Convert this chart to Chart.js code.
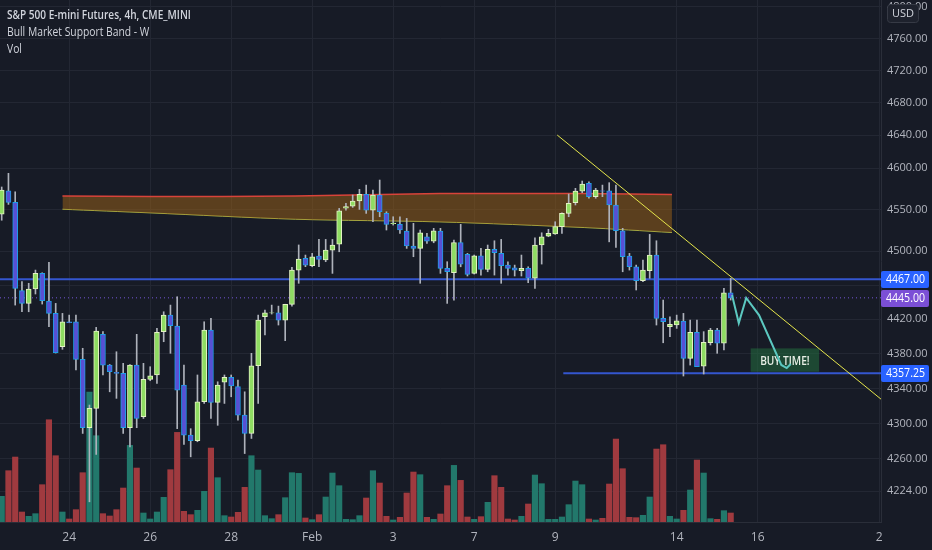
<!DOCTYPE html>
<html>
<head>
<meta charset="utf-8">
<script src="https://cdn.jsdelivr.net/npm/chart.js"></script>
<style>
  html, body { margin: 0; padding: 0; background: #171b26; }
  #wrap { width: 932px; height: 550px; }
</style>
</head>
<body>
<div id="wrap"><canvas id="esChart" width="932" height="550"></canvas></div>
<script>
// 4h candles, index 0 = first visible bar
const opens = [4544.4,4572.5,4558.5,4453.4,4438.5,4455.4,4473.8,4441.2,4426.8,4388,4417,4417,4373.4,4295.2,4317.2,4402.4,4366.8,4358.4,4357.3,4295.2,
  4366.8,4307.6,4350.4,4355.4,4405.5,4424.8,4412,4343.9,4286.8,4280.4,4324.7,4407.4,4324,4347,4352.7,4342,4309.5,4288.7,4366,4422.9,
  4427.2,4427.5,4419,4437.3,4477.7,4491.6,4482.8,4494.3,4489.6,4501.4,4508.5,4551.6,4554,4560.1,4568.1,4549.2,4567.3,4545.2,4532.9,4532.1,
  4524.1,4506.2,4503.4,4517.3,4512.1,4524.1,4479.7,4474.5,4510.4,4496.3,4473.8,4494.7,4478.5,4502.2,4497.5,4483.6,4480.5,4476.9,4479.7,4468,
  4507.4,4518.1,4520.5,4529.3,4545.2,4558,4572.1,4581.4,4565.3,4572.5,4572.5,4555.3,4524.4,4494.3,4481.6,4465.2,4476.9,4495.5,4421,4411.2,
  4413.2,4417.8,4374.6,4404.7,4365.6,4392.7,4407.4,4392,4451];
const highs = [4577,4593.5,4571.2,4464,4462.1,4477.7,4474.5,4486.9,4438.5,4426.8,4424.8,4424.8,4386.2,4321,4410.5,4405.5,4367.5,4382.2,4368.8,4367.5,
  4402.4,4368.8,4364.9,4409.4,4428.7,4436.5,4446.3,4366.8,4294.1,4355.4,4417,4420.9,4347.6,4355.4,4355.4,4349.6,4336.1,4380.4,4424.8,4430.7,
  4436.5,4435.3,4437.5,4480.9,4507.5,4495.5,4497.5,4514.1,4514.1,4514.1,4551.2,4557.3,4567.3,4574.1,4579.3,4573.3,4585.4,4547.2,4541.2,4541.2,
  4539.2,4533.3,4525.3,4521.3,4527.3,4527.3,4487.6,4513.3,4532.1,4497.5,4495.5,4503.4,4507.4,4512.5,4514.1,4487.6,4483.6,4495.5,4481.6,4516.1,
  4522,4526.1,4535.2,4546,4568.5,4575.4,4584.2,4583.3,4575.4,4579.3,4582.2,4579.3,4527.3,4497.5,4483.6,4489.6,4520.1,4512.5,4442.4,4422.9,
  4424.8,4426.8,4419,4419,4405.5,4409.4,4409.4,4456.2,4468];
const lows = [4537,4556,4436.5,4428.7,4428.7,4449.5,4437.7,4411.2,4380.7,4385,4415.9,4361.1,4288.7,4212,4265,4355.4,4336.1,4328.6,4288.7,4273.6,
  4295.2,4305.7,4348.8,4345.8,4393.8,4380.4,4294.1,4276.2,4262.3,4279.3,4322.8,4305.7,4297.9,4322.8,4330.4,4303.8,4266,4283,4322.8,4401.6,
  4426,4413.2,4395,4435.3,4462.1,4481.7,4481.6,4481.6,4487.6,4473.8,4499.4,4549.2,4552.4,4550,4545.2,4535.2,4541.2,4525.3,4531.2,4521.3,
  4503.4,4493.5,4462.1,4509.4,4510.1,4473.8,4438.5,4442.4,4481.6,4470.7,4473,4471.8,4475.7,4471.8,4462.1,4471.8,4470.7,4470.7,4462.8,4456.2,
  4484.8,4517.3,4520.1,4521.3,4541.2,4555.3,4570.1,4563.4,4563.4,4565.3,4511.2,4504.6,4475.7,4477.7,4454.2,4464,4468,4413.2,4392.6,4399.6,
  4409.3,4354.2,4366.8,4364.9,4356.5,4390,4380.4,4384.2,4442.4];
const closes = [4573.3,4558.5,4456.2,4438.5,4455.4,4473.8,4441.6,4426.8,4381.1,4417,4416,4373.4,4295.2,4317.2,4406.2,4366.8,4359.1,4357.3,4295.2,4366.8,
  4305.7,4350.4,4354.5,4404.7,4424.8,4412.4,4338.1,4286.8,4280.4,4324.7,4407.4,4324,4343.9,4352.7,4342.7,4309.5,4288.7,4366,4419,4427.5,
  4427.5,4419,4437.3,4477.7,4490.8,4483.6,4493.5,4490.4,4501.4,4507.4,4548.4,4553.4,4560.1,4568.1,4549.2,4567.3,4547.2,4532.1,4533.6,4525.3,
  4506.2,4503.4,4522,4512.1,4524.4,4479.7,4475.7,4510.4,4484.8,4472.6,4494.7,4478.5,4502.2,4498.2,4482.8,4479.7,4477.7,4479.7,4468,4507.4,
  4517.3,4521.3,4529.3,4545.2,4557.3,4572.1,4580.6,4565.3,4573.3,4572,4555.3,4524.4,4493.5,4481.6,4465.2,4477.7,4495.5,4421,4417,4414,
  4418.2,4374.6,4404.7,4364.9,4393.1,4407.4,4392,4451,4445];
const volumes = [77,154,195,30,17,25,112,307,199,30,9,37,148,390,259,25,18,37,102,230,
  162,27,9,30,74,157,269,32,22,35,92,222,133,19,15,29,104,199,156,19,
  10,22,73,148,146,12,7,22,75,147,109,8,7,19,72,154,117,17,6,14,
  87,150,142,14,8,24,109,170,125,15,8,16,59,139,104,9,6,17,54,141,
  115,8,8,15,52,123,112,9,6,11,114,249,160,14,13,20,75,219,232,17,
  9,35,96,186,147,10,8,34,27];

// time axis: bar index -> label
const dayIdx = [10, 22, 34, 46, 58, 70, 82, 100, 112, 130];
const dayLabels = ['24', '26', '28', 'Feb', '3', '7', '9', '14', '16', '2'];
const priceTicks = [4224, 4260, 4300, 4340, 4380, 4420, 4460, 4500, 4550, 4600, 4640, 4680, 4720, 4760, 4800];

// Bull Market Support Band (weekly) over the visible span
const bandIdx = [9.0, 22.0, 43.5, 64.9, 86.4, 99.3];
const bandTop = [4566, 4565.5, 4566, 4569, 4569, 4568];
const bandBottom = [4550.2, 4545.8, 4538.2, 4535, 4528.2, 4522.3];

// drawings
const resistance = 4467;
const support = 4357.25;
const supportFrom = 83.2;
const lastPrice = 4445;
const trendIdx = [82.3, 130.27];
const trendPrice = [4640.2, 4327.7];
const pathIdx = [108.2, 109.2, 110.3, 112.2, 115.5, 116.3, 116.9];
const pathPrice = [4448.3, 4415.5, 4444.8, 4424.8, 4366.9, 4363.4, 4368];
const buyIdx = [110.96, 121.1];
const buyPrice = [4386.1, 4359.1];

const X_MIN = -0.252, X_MAX = 130.27;
const Y_MIN = 4189.6, Y_MAX = 4808.6;

const isUp = closes.map((c, i) => c >= opens[i]);
const pts = (xs, ys) => xs.map((x, i) => ({ x: x, y: ys[i] }));

// narrow text like the TradingView UI font
function narrowText(ctx, txt, x, y, sx) {
  ctx.save();
  ctx.translate(x, y);
  ctx.scale(sx, 1);
  ctx.fillText(txt, 0, 0);
  ctx.restore();
}

const overlay = {
  id: 'overlay',
  beforeDatasetsDraw(chart) {
    const { ctx, scales: { x, y } } = chart;
    const x0 = x.getPixelForValue(buyIdx[0]), x1 = x.getPixelForValue(buyIdx[1]);
    const y0 = y.getPixelForValue(buyPrice[0]), y1 = y.getPixelForValue(buyPrice[1]);
    ctx.save();
    ctx.fillStyle = 'rgba(34,110,62,0.55)';
    ctx.fillRect(x0, y0, x1 - x0, y1 - y0);
    ctx.fillStyle = '#e8efe6';
    ctx.font = '600 13px "Open Sans"';
    ctx.textAlign = 'center';
    ctx.textBaseline = 'middle';
    narrowText(ctx, 'BUY TIME!', (x0 + x1) / 2, (y0 + y1) / 2 + 1, 0.78);
    ctx.restore();
  },
  afterDraw(chart) {
    const { ctx, scales: { y }, chartArea } = chart;
    ctx.save();
    // price tags on the right scale
    [[resistance, '#2962ff'], [lastPrice, '#7b4fd6'], [support, '#2962ff']].forEach(([p, col]) => {
      const py = Math.round(y.getPixelForValue(p));
      ctx.fillStyle = col;
      ctx.beginPath();
      ctx.roundRect(chartArea.right, py - 8, 48, 17, 2);
      ctx.fill();
      ctx.fillStyle = '#ffffff';
      ctx.font = '12px "Open Sans"';
      ctx.textBaseline = 'middle';
      narrowText(ctx, p.toFixed(2), chartArea.right + 5, py + 1, 0.88);
    });
    // currency badge
    ctx.fillStyle = '#1e222d';
    ctx.strokeStyle = '#363a45';
    ctx.beginPath();
    ctx.roundRect(887.5, 4.5, 31, 18, 3);
    ctx.fill();
    ctx.stroke();
    ctx.fillStyle = '#d1d4dc';
    ctx.font = '11px "Open Sans"';
    ctx.textAlign = 'center';
    ctx.fillText('USD', 903, 14);
    // legend
    ctx.textAlign = 'left';
    ctx.fillStyle = '#d1d4dc';
    ctx.font = '600 12px "Open Sans"';
    narrowText(ctx, 'S&P 500 E-mini Futures, 4h, CME_MINI', 7, 16, 0.84);
    ctx.font = '12px "Open Sans"';
    narrowText(ctx, 'Bull Market Support Band - W', 7, 33, 0.86);
    narrowText(ctx, 'Vol', 7, 50, 0.86);
    ctx.restore();
  }
};

new Chart(document.getElementById('esChart'), {
  type: 'bar',
  data: {
    datasets: [
      {
        type: 'bar', label: 'Vol', yAxisID: 'v', order: 10, grouped: false,
        data: pts(volumes.map((_, i) => i), volumes),
        backgroundColor: isUp.map(u => u ? '#22786b' : '#a03a3f'),
        barThickness: 5.5
      },
      {
        type: 'line', label: 'band low', order: 9,
        data: pts(bandIdx, bandBottom),
        borderColor: '#a9b64a', borderWidth: 1, pointRadius: 0, tension: 0.3
      },
      {
        type: 'line', label: 'band high', order: 8,
        data: pts(bandIdx, bandTop),
        borderColor: '#d8433a', borderWidth: 1.5, pointRadius: 0, tension: 0.3,
        fill: { target: '-1' }, backgroundColor: 'rgba(160,100,22,0.5)'
      },
      {
        type: 'line', label: 'last', order: 7,
        data: pts([X_MIN, X_MAX], [lastPrice, lastPrice]),
        borderColor: '#7557d8', borderWidth: 1, borderDash: [1, 3], pointRadius: 0
      },
      {
        type: 'line', label: 'resistance', order: 6,
        data: pts([X_MIN, X_MAX], [resistance, resistance]),
        borderColor: '#3456cf', borderWidth: 2, pointRadius: 0
      },
      {
        type: 'line', label: 'support', order: 6,
        data: pts([supportFrom, X_MAX], [support, support]),
        borderColor: '#3456cf', borderWidth: 2, pointRadius: 0
      },
      {
        type: 'bar', label: 'wick', order: 3, grouped: false,
        data: pts(lows.map((_, i) => i), lows.map((l, i) => [l, highs[i]])),
        backgroundColor: '#aeb2bb', barThickness: 1
      },
      {
        type: 'bar', label: 'body', order: 2, grouped: false,
        data: pts(opens.map((_, i) => i), opens.map((o, i) => [o, closes[i]])),
        backgroundColor: isUp.map(u => u ? '#8fdc62' : '#5850d4'),
        borderColor: isUp.map(u => u ? '#e4f2c4' : '#1f9fe6'),
        borderWidth: 1, borderSkipped: false, barThickness: 5
      },
      {
        type: 'line', label: 'trend', order: 1,
        data: pts(trendIdx, trendPrice),
        borderColor: '#e6e64c', borderWidth: 1, pointRadius: 0
      },
      {
        type: 'line', label: 'path', order: 0,
        data: pts(pathIdx, pathPrice),
        borderColor: '#5cc8c0', borderWidth: 2, pointRadius: 0
      }
    ]
  },
  options: {
    responsive: false,
    animation: false,
    layout: { padding: 0 },
    plugins: { legend: { display: false }, tooltip: { enabled: false } },
    scales: {
      x: {
        type: 'linear', min: X_MIN, max: X_MAX, offset: false, bounds: 'data',
        grid: { color: '#232733', offset: false, drawTicks: false },
        border: { color: '#2a2e39' },
        afterBuildTicks: s => { s.ticks = dayIdx.map(v => ({ value: v })); },
        afterFit: s => { s.height = 28; s.paddingLeft = 0; s.paddingRight = 0; },
        ticks: {
          autoSkip: false, maxRotation: 0, padding: 8, color: '#b2b5be',
          font: { family: 'Open Sans', size: 12 },
          callback: v => dayLabels[dayIdx.indexOf(v)]
        }
      },
      y: {
        type: 'logarithmic', position: 'right', min: Y_MIN, max: Y_MAX, bounds: 'data',
        grid: { color: '#232733', drawTicks: false },
        border: { color: '#2a2e39' },
        afterBuildTicks: s => { s.ticks = priceTicks.map(v => ({ value: v })); },
        afterFit: s => { s.width = 51; s.paddingTop = 0; s.paddingBottom = 0; },
        ticks: {
          autoSkip: false, padding: 6, color: '#b2b5be',
          font: { family: 'Open Sans', size: 11 },
          callback: v => Number(v).toFixed(2)
        }
      },
      v: { type: 'linear', display: false, min: 0, max: 1567 }
    }
  },
  plugins: [overlay]
});
</script>
</body>
</html>
